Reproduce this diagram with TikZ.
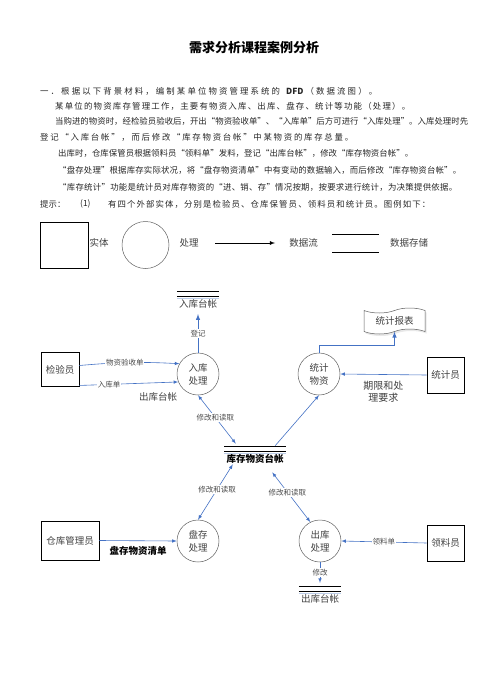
\documentclass[tikz,border=0pt]{standalone}
\usepackage{fontspec}
\setmainfont{Noto Sans CJK SC}
\usetikzlibrary{shapes.symbols,shadows}

\definecolor{flowblue}{RGB}{68,114,196}
\definecolor{ringgray}{RGB}{95,95,95}

% stretch one line of text to a given width
\ExplSyntaxOn
\NewDocumentCommand\spreadline{mm}{\makebox[#1][s]{\tl_map_inline:nn{#2}{##1\hfil}\unskip}}
\ExplSyntaxOff

\begin{document}
\begin{tikzpicture}[x=1pt,y=-1pt,>=latex,
  body/.style={anchor=west,inner sep=0pt,font=\fontsize{8.4}{10}\selectfont,text=black!85},
  legtxt/.style={inner sep=0pt,font=\fontsize{9.5}{11}\selectfont,text=black!75},
  entity/.style={draw=black,line width=0.9pt,minimum width=38pt,minimum height=34pt,font=\fontsize{9.5}{11}\selectfont,text=black!75},
  proc/.style={circle,draw=ringgray,line width=0.5pt,minimum size=42pt,inner sep=0pt,align=center,font=\fontsize{9.5}{13}\selectfont,text=black!75},
  store/.style={inner sep=0.5pt,font=\fontsize{9.5}{11}\selectfont,text=black!75},
  flow/.style={->,draw=flowblue,line width=0.6pt},
  both/.style={<->,draw=flowblue,line width=0.6pt},
  lbl/.style={fill=white,inner sep=0.8pt,font=\fontsize{7.5}{9}\selectfont,text=black!70}]
  \useasboundingbox (0,0) rectangle (496,691);

  % heading and background text
  \node[font=\bfseries\fontsize{13}{15}\selectfont] (title) at (254,48) {需求分析课程案例分析};
  \node[body] (p1) at (40,91) {\spreadline{337pt}{一．根据以下背景材料，编制某单位物资管理系统的~{{\bfseries DFD}}（数据流图）。}};
  \node[body] (p2) at (55,106.5) {\spreadline{355pt}{某单位的物资库存管理工作，主要有物资入库、出库、盘存、统计等功能（处理）。}};
  \node[body] (p3) at (55,121.5) {\spreadline{413pt}{当购进的物资时，经检验员验收后，开出“物资验收单”、“入库单”后方可进行“入库处理”。入库处理时先}};
  \node[body] (p4) at (40,137) {\spreadline{313pt}{登记“入库台帐”，而后修改“库存物资台帐”中某物资的库存总量。}};
  \node[body] (p5) at (58,153.5) {\spreadline{355pt}{出库时，仓库保管员根据领料员“领料单”发料，登记“出库台帐”，修改“库存物资台帐”。}};
  \node[body] (p6) at (58,170.5) {\spreadline{403pt}{“盘存处理”根据库存实际状况，将“盘存物资清单”中有变动的数据输入，而后修改“库存物资台帐”。}};
  \node[body] (p7) at (58,187.5) {\spreadline{399pt}{“库存统计”功能是统计员对库存物资的“进、销、存”情况按期，按要求进行统计，为决策提供依据。}};
  \node[body] (p8) at (40,204) {提示：};
  \node[body] (p8n) at (80,204) {(1)};
  \node[body] (p8t) at (108,204) {\spreadline{322pt}{有四个外部实体，分别是检验员、仓库保管员、领料员和统计员。图例如下：}};

  % legend
  \node[entity,minimum width=48pt,minimum height=46pt] (lgent) at (64,245) {};
  \node[legtxt] (lgentt) at (99,243) {实体};
  \node[proc,minimum size=47pt] (lgproc) at (145.5,245) {};
  \node[legtxt] (lgproct) at (189,243) {处理};
  \node[legtxt] (lgflowt) at (303.5,243) {数据流};
  \node[legtxt] (lgstoret) at (409,243) {数据存储};
  \draw[->,line width=0.8pt] ([xshift=16.5pt]lgproct.east) -- ([xshift=-14pt]lgflowt.west);
  \draw[line width=0.8pt] (332,234) -- (379,234) (332,252) -- (379,252);

  % external entities
  \node[entity] (jyy) at (60,369.5) {检验员};
  \node[entity,minimum width=58pt,minimum height=39pt] (ckgly) at (70,540.5) {仓库管理员};
  \node[entity,minimum width=37pt,minimum height=36pt] (tjy) at (445.5,375) {统计员};
  \node[entity,minimum width=37pt,minimum height=36pt] (lly) at (445.5,543) {领料员};

  % processes
  \node[proc] (rk) at (198,374) {入库\\处理};
  \node[proc] (tj) at (319,374) {统计\\物资};
  \node[proc] (pc) at (198,541) {盘存\\处理};
  \node[proc] (ck) at (320,541) {出库\\处理};

  % data stores
  \node[store] (rktz) at (198,304) {入库台帐};
  \node[store,font=\bfseries\fontsize{9.5}{11}\selectfont,text=black] (kctz) at (255,459) {库存物资台帐};
  \node[store] (cktz) at (320,599) {出库台帐};
  \foreach \s in {rktz,kctz,cktz}{
    \draw[line width=0.9pt] ([shift={(-1.5pt,7pt)}]\s.north west) -- ([shift={(1.5pt,7pt)}]\s.north east);
    \draw[line width=0.9pt] ([shift={(-1.5pt,2.5pt)}]\s.north west) -- ([shift={(1.5pt,2.5pt)}]\s.north east);
    \draw[flowblue!35,line width=0.4pt] ([shift={(-1.5pt,0.5pt)}]\s.north west) -- ([shift={(1.5pt,0.5pt)}]\s.north east);
  }
  \node[tape,draw=ringgray,fill=white,line width=0.5pt,drop shadow={fill=black!18,shadow xshift=1.5pt,shadow yshift=-2pt},
        minimum width=61pt,minimum height=26pt,font=\fontsize{9.5}{11}\selectfont,text=black!75] (tjbb) at (394.5,321) {统计报表};
  \node[font=\fontsize{9.5}{11}\selectfont,text=black!75] (ckstray) at (158,397) {出库台帐};

  % data flows
  \draw[flow] ([yshift=4pt]jyy.east) to[bend left=4] node[lbl,pos=0.45] {物资验收单} (rk.151);
  \draw[flow] ([yshift=1.5pt]jyy.south east) -- node[lbl,pos=0.3] {入库单} (rk.202);
  \draw[flow,line width=1pt] (rk.north) -- node[lbl] {登记} ([yshift=-5pt]rktz.south);
  \draw[both] (rk.south) -- node[lbl,pos=0.46] {修改和读取} ([shift={(10pt,10pt)}]kctz.north west);
  \draw[flow] ([shift={(-9pt,8pt)}]kctz.north east) -- (tj.south);
  \draw[flow,line width=1pt] (tj.north) -- ++(0,-7) -| (tjbb.south);
  \draw[flow] (tjy.west) -- node[below=3pt,align=center,font=\fontsize{10}{12}\selectfont,text=black!75] {期限和处\\理要求} (tj.east);
  \draw[both] ([xshift=7pt]kctz.south west) -- node[lbl,pos=0.45] {修改和读取} (pc.north);
  \draw[both] ([shift={(-12pt,-8pt)}]kctz.south east) -- node[lbl,pos=0.4] {修改和读取} (ck.117);
  \draw[flow] (ckgly.east) -- node[below=2pt,font=\bfseries\fontsize{9.5}{11}\selectfont] {盘存物资清单} (pc.west);
  \draw[flow] (lly.west) -- node[lbl] {领料单} (ck.east);
  \draw[flow] (ck.south) -- node[lbl] {修改} ([yshift=11pt]cktz.north);
\end{tikzpicture}
\end{document}
